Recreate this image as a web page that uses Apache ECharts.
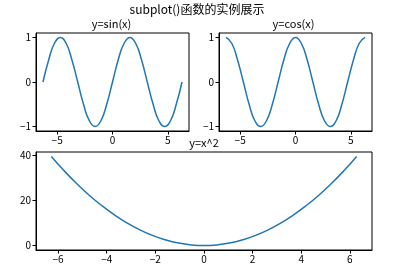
<!DOCTYPE html>
<html>
<head>
<meta charset="utf-8">
<script src="https://cdn.jsdelivr.net/npm/echarts@6/dist/echarts.min.js"></script>
<style>
html,body{margin:0;padding:0;background:#fff;}
#chart{width:414px;height:269px;}
</style>
</head>
<body>
<div id="chart"></div>
<script>
const mainTitle = 'subplot()函数的实例展示';
const subTitles = ['y=sin(x)', 'y=cos(x)', 'y=x^2'];

const xs = [-6.28,-5.76,-5.24,-4.71,-4.19,-3.67,-3.14,-2.62,-2.09,-1.57,-1.05,-0.52,0,0.52,1.05,1.57,2.09,2.62,3.14,3.67,4.19,4.71,5.24,5.76,6.28];
const sinY = [0,0.5,0.87,1,0.87,0.5,0,-0.5,-0.87,-1,-0.87,-0.5,0,0.5,0.87,1,0.87,0.5,0,-0.5,-0.87,-1,-0.87,-0.5,0];
const cosY = [1,0.87,0.5,0,-0.5,-0.87,-1,-0.87,-0.5,0,0.5,0.87,1,0.87,0.5,0,-0.5,-0.87,-1,-0.87,-0.5,0,0.5,0.87,1];
const sqY = [39.44,33.18,27.46,22.18,17.56,13.47,9.86,6.86,4.37,2.46,1.10,0.27,0,0.27,1.10,2.46,4.37,6.86,9.86,13.47,17.56,22.18,27.46,33.18,39.44];

const topXTicks = [-5, 0, 5];
const bottomXTicks = [-6, -4, -2, 0, 2, 4, 6];
const trigYTicks = [-1, 0, 1];
const sqYTicks = [0, 20, 40];

const FONT = '"Noto Sans CJK SC", "DejaVu Sans", sans-serif';
const fmt = v => String(v).replace('-', '\u2212');

function xAxis(gridIndex, ticks, min, max) {
  return {
    type: 'value', gridIndex, min, max,
    axisLine: { show: true, onZero: false, lineStyle: { color: '#000', width: 1 } },
    axisTick: { show: true, inside: false, length: 3.5, customValues: ticks, lineStyle: { color: '#000', width: 1 } },
    axisLabel: { show: true, customValues: ticks, formatter: fmt, color: '#000', fontSize: 10, fontFamily: FONT, margin: 4 },
    splitLine: { show: false }
  };
}
function yAxis(gridIndex, ticks, min, max) {
  return {
    type: 'value', gridIndex, min, max,
    axisLine: { show: true, onZero: false, lineStyle: { color: '#000', width: 1 } },
    axisTick: { show: true, inside: false, length: 3.5, customValues: ticks, lineStyle: { color: '#000', width: 1 } },
    axisLabel: { show: true, customValues: ticks, formatter: fmt, color: '#000', fontSize: 10, fontFamily: FONT, margin: 5 },
    splitLine: { show: false }
  };
}
function series(idx, ys) {
  return {
    type: 'line', xAxisIndex: idx, yAxisIndex: idx,
    data: xs.map((x, i) => [x, ys[i]]),
    smooth: true, showSymbol: false, symbol: 'none',
    lineStyle: { color: '#1f77b4', width: 1.5 },
    animation: false
  };
}

const chart = echarts.init(document.getElementById('chart'), null, { renderer: 'canvas' });
chart.setOption({
  animation: false,
  backgroundColor: '#fff',
  grid: [
    { left: 36, top: 33, width: 153, height: 98, show: true, borderColor: '#000', borderWidth: 1, backgroundColor: 'transparent' },
    { left: 219, top: 33, width: 153, height: 98, show: true, borderColor: '#000', borderWidth: 1, backgroundColor: 'transparent' },
    { left: 36, top: 152, width: 336, height: 98, show: true, borderColor: '#000', borderWidth: 1, backgroundColor: 'transparent' }
  ],
  xAxis: [
    xAxis(0, topXTicks, -6.91, 6.91),
    xAxis(1, topXTicks, -6.91, 6.91),
    xAxis(2, bottomXTicks, -6.91, 6.91)
  ],
  yAxis: [
    yAxis(0, trigYTicks, -1.1, 1.1),
    yAxis(1, trigYTicks, -1.1, 1.1),
    yAxis(2, sqYTicks, -1.97, 41.42)
  ],
  series: [series(0, sinY), series(1, cosY), series(2, sqY)],
  graphic: [
    { type: 'text', x: 197, y: 9, style: { text: mainTitle, fill: '#000', font: '12px ' + FONT, textAlign: 'center', textVerticalAlign: 'middle' } },
    { type: 'text', x: 111.5, y: 24, style: { text: subTitles[0], fill: '#000', font: '11px ' + FONT, textAlign: 'center', textVerticalAlign: 'middle' } },
    { type: 'text', x: 293.5, y: 24, style: { text: subTitles[1], fill: '#000', font: '11px ' + FONT, textAlign: 'center', textVerticalAlign: 'middle' } },
    { type: 'text', x: 204, y: 143, style: { text: subTitles[2], fill: '#000', font: '11px ' + FONT, textAlign: 'center', textVerticalAlign: 'middle' } }
  ]
});
</script>
</body>
</html>
